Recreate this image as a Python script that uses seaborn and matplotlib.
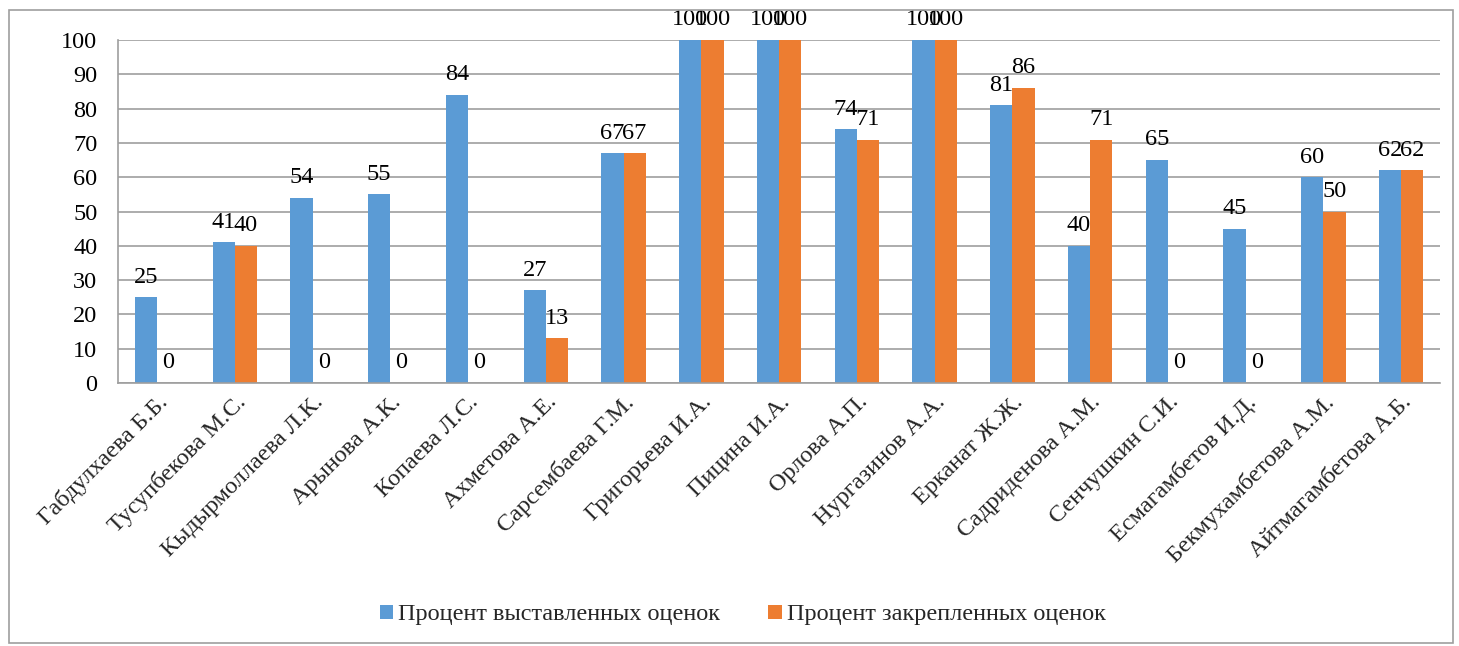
import matplotlib
matplotlib.use("Agg")
import matplotlib.pyplot as plt
import seaborn as sns
import pandas as pd
import numpy as np
from matplotlib.patches import Rectangle

names = ["Габдулхаева Б.Б.", "Тусупбекова М.С.", "Кыдырмоллаева Л.К.", "Арынова А.К.",
         "Копаева Л.С.", "Ахметова А.Е.", "Сарсембаева Г.М.", "Григорьева И.А.",
         "Пицина И.А.", "Орлова А.П.", "Нургазинов А.А.", "Ерканат Ж.Ж.",
         "Садриденова А.М.", "Сенчушкин С.И.", "Есмагамбетов И.Д.",
         "Бекмухамбетова А.М.", "Айтмагамбетова А.Б."]
issued = [25, 41, 54, 55, 84, 27, 67, 100, 100, 74, 100, 81, 40, 65, 45, 60, 62]
fixed = [0, 40, 0, 0, 0, 13, 67, 100, 100, 71, 100, 86, 71, 0, 0, 50, 62]
series = ["Процент выставленных оценок", "Процент закрепленных оценок"]
colors = ["#5B9BD5", "#ED7D31"]

sns.set_theme(style="white")
plt.rcParams['font.family'] = ['serif']
plt.rcParams['font.serif'] = ['Liberation Serif', 'DejaVu Serif']
FONT = ['Liberation Serif', 'DejaVu Serif']
FS = 17.5

df = pd.DataFrame({
    "name": names * 2,
    "value": issued + fixed,
    "series": [series[0]] * len(names) + [series[1]] * len(names),
})

fig = plt.figure(figsize=(14.59, 6.46), dpi=100)
ax = fig.add_axes([0.081, 0.407, 0.906, 0.531])
sns.barplot(data=df, x="name", y="value", hue="series", palette=colors,
            width=0.57, saturation=1, ax=ax, legend=True, edgecolor="none")

for c in ax.containers:
    ax.bar_label(c, fmt="%g", padding=7, fontsize=FS, color="black", family=FONT)

ax.set_ylim(0, 100)
ax.set_yticks(range(0, 101, 10))
ax.set_xlim(-0.5, len(names) - 0.5)
ax.yaxis.grid(True, color="#9e9e9e", linewidth=1.2)
ax.set_axisbelow(True)
ax.set_xlabel("")
ax.set_ylabel("")
ax.tick_params(axis="y", labelsize=FS, length=0, pad=15, colors="black")
ax.tick_params(axis="x", which="major", labelsize=FS, length=0, pad=6)
ax.set_xticks(np.arange(-0.5, len(names), 1), minor=True)
ax.tick_params(axis="x", which="minor", length=6, color="#9e9e9e", width=1.2, direction="out")
for t in ax.get_xticklabels() + ax.get_yticklabels():
    t.set_family(FONT)
plt.setp(ax.get_xticklabels(), rotation=45, ha="right", rotation_mode="anchor")
for s in ["top", "right"]:
    ax.spines[s].set_visible(False)
for s in ["left", "bottom"]:
    ax.spines[s].set_color("#9e9e9e")
    ax.spines[s].set_linewidth(1.2)

h, l = ax.get_legend_handles_labels()
ax.get_legend().remove()
fig.legend(h, l, loc="center", bbox_to_anchor=(0.509, 0.048), ncol=2, frameon=False,
           prop={'family': FONT, 'size': FS}, handlelength=0.55, handleheight=0.55,
           handletextpad=0.2, columnspacing=2.0)

fig.patches.append(Rectangle((0.006, 0.004), 0.99, 0.98, transform=fig.transFigure,
                             fill=False, edgecolor="#9e9e9e", linewidth=1.2))
fig.savefig("out.png", dpi=100)
